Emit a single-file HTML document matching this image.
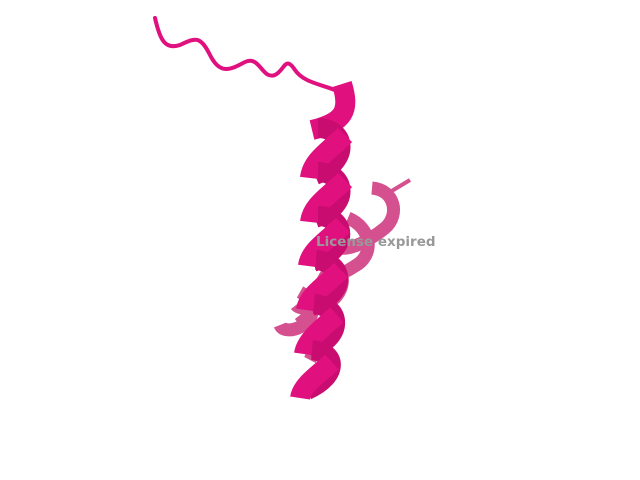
<!DOCTYPE html>
<html><head><meta charset="utf-8"><style>
body{margin:0;background:#fff;width:640px;height:480px;overflow:hidden}
svg{display:block}
</style></head><body>
<svg width="640" height="480" viewBox="0 0 640 480">
<g fill="none" stroke="#d4508f" stroke-width="13" stroke-linecap="butt">
<path d="M410 180 L385 195" stroke-width="4"/>
<path d="M372 188 C395 190,400 215,385 228 C370 240,352 250,340 248"/>
<path d="M348 218 C372 228,375 255,355 266 C340 276,325 280,318 276"/>
<path d="M330 262 C348 270,345 292,330 302 C315 310,300 310,296 305"/>
<path d="M300 292 C318 302,315 320,300 327 C290 332,282 330,280 325"/>
<path d="M300 315 C312 330,318 345,310 360"/>
</g>
<path d="M155 18 C160 40,165 50,180 45 C195 38,200 35,210 55 C220 75,230 70,245 62 C260 55,262 80,275 75 C285 70,285 55,295 70 C305 85,330 85,345 95" fill="none" stroke="#e0117f" stroke-width="4" stroke-linecap="round"/>
<g fill="none" stroke="#e0117f" stroke-width="20" stroke-linecap="butt">
<path d="M342 84 C350 110,345 122,312 130"/>
<path d="M318 128 C345 128,352 160,315 175" stroke="#c90c70"/>
<path d="M310 178 C312 160,330 150,345 135"/>
<path d="M318 172 C345 172,352 205,315 218" stroke="#c90c70"/>
<path d="M310 222 C312 205,330 195,345 180"/>
<path d="M318 216 C345 216,352 248,313 262" stroke="#c90c70"/>
<path d="M308 266 C310 250,328 240,343 225"/>
<path d="M316 260 C343 262,350 292,311 306" stroke="#c90c70"/>
<path d="M306 310 C308 295,326 285,341 270"/>
<path d="M314 304 C340 306,346 336,309 350" stroke="#c90c70"/>
<path d="M304 354 C306 340,322 328,337 315"/>
<path d="M312 350 C336 352,340 375,307 390" stroke="#c90c70"/>
<path d="M300 398 C302 385,318 375,332 362"/>
</g>
<text x="316" y="246" font-family="'DejaVu Sans','Liberation Sans',sans-serif" font-weight="bold" font-size="13.5" fill="#999">License expired</text>
</svg>
</body></html>
